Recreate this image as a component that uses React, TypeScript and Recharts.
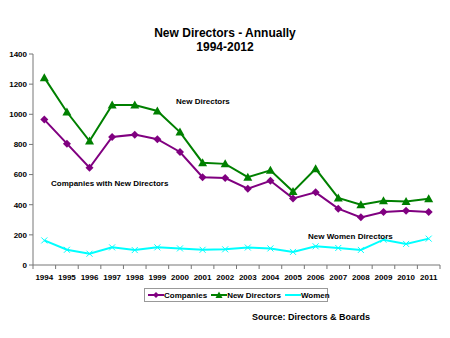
import { LineChart, Line, XAxis, YAxis } from "recharts";

const years = ["1994", "1995", "1996", "1997", "1998", "1999", "2000", "2001", "2002", "2003", "2004", "2005", "2006", "2007", "2008", "2009", "2010", "2011"];
const companies = [965, 805, 645, 850, 865, 835, 750, 582, 577, 506, 559, 442, 482, 374, 316, 352, 360, 352];
const newDirectors = [1243, 1015, 822, 1062, 1062, 1022, 882, 679, 671, 583, 628, 487, 638, 445, 400, 426, 422, 440];
const women = [163, 101, 75, 117, 99, 117, 110, 101, 104, 116, 110, 87, 124, 113, 100, 168, 140, 175];
const yTicks = [0, 200, 400, 600, 800, 1000, 1200, 1400];

const data = years.map((y, i) => ({
  year: y,
  companies: companies[i],
  newDirectors: newDirectors[i],
  women: women[i],
}));

const FONT = "'Liberation Sans', Arial, sans-serif";
const PURPLE = "#800080";
const GREEN = "#008000";
const CYAN = "#00FFFF";
const BAND = (440 - 33) / years.length;

const Diamond = (props: any) => {
  const { cx, cy } = props;
  if (cx == null || cy == null) return null;
  return <path d={`M${cx},${cy - 4}L${cx + 4},${cy}L${cx},${cy + 4}L${cx - 4},${cy}Z`} fill={PURPLE} />;
};

const Triangle = (props: any) => {
  const { cx, cy } = props;
  if (cx == null || cy == null) return null;
  return <path d={`M${cx},${cy - 4.5}L${cx + 4.5},${cy + 3.5}L${cx - 4.5},${cy + 3.5}Z`} fill={GREEN} />;
};

const Cross = (props: any) => {
  const { cx, cy } = props;
  if (cx == null || cy == null) return null;
  return (
    <path d={`M${cx - 3},${cy - 3}L${cx + 3},${cy + 3}M${cx - 3},${cy + 3}L${cx + 3},${cy - 3}`} stroke={CYAN} strokeWidth={1} />
  );
};

const XTick = (props: any) => {
  const { x, y, payload, index } = props;
  return (
    <g>
      {index === 0 && <line x1={x - BAND / 2} y1={y - 8} x2={x - BAND / 2} y2={y - 4} stroke="#777" />}
      <line x1={x + BAND / 2} y1={y - 8} x2={x + BAND / 2} y2={y - 4} stroke="#777" />
      <text x={x} y={y + 7} textAnchor="middle" fontSize={8} fontWeight="bold" fontFamily={FONT} fill="#000">
        {payload.value}
      </text>
    </g>
  );
};

const legendItems = [
  { label: "Companies", color: PURPLE, mark: "d" },
  { label: "New Directors", color: GREEN, mark: "t" },
  { label: "Women", color: CYAN, mark: "x" },
];

const LegendBox = () => (
  <div
    style={{
      position: "absolute", left: 144, top: 288, width: 184, height: 14, border: "1px solid #999", boxSizing: "border-box",
      display: "flex", alignItems: "center", fontFamily: FONT, fontSize: 8, fontWeight: "bold", paddingLeft: 3, whiteSpace: "nowrap",
    }}
  >
    {legendItems.map((it) => (
      <span key={it.label} style={{ display: "flex", alignItems: "center", marginRight: 4 }}>
        <svg width={16} height={8}>
          <line x1={0} y1={4} x2={16} y2={4} stroke={it.color} strokeWidth={2} />
          {it.mark === "d" && <path d="M8,1L11,4L8,7L5,4Z" fill={it.color} />}
          {it.mark === "t" && <path d="M8,0.5L11.5,7L4.5,7Z" fill={it.color} />}
        </svg>
        <span>{it.label}</span>
      </span>
    ))}
  </div>
);

const noteStyle = { position: "absolute" as const, fontFamily: FONT, fontSize: 8, fontWeight: "bold" as const, color: "#000", whiteSpace: "nowrap" as const };

export default function App() {
  return (
    <div style={{ position: "absolute", left: 0, top: 0, width: 450, height: 338, background: "#fff", fontFamily: FONT }}>
      <div style={{ position: "absolute", top: 26, left: 0, width: 450, textAlign: "center", fontSize: 12, fontWeight: "bold", lineHeight: "14px" }}>
        New Directors - Annually
        <br />
        1994-2012
      </div>
      <LineChart width={450} height={300} data={data} margin={{ top: 54, right: 10, bottom: 15, left: 0 }}>
        <XAxis
          dataKey="year"
          padding={{ left: BAND / 2, right: BAND / 2 }}
          axisLine={{ stroke: "#777" }}
          tickLine={false}
          tick={<XTick />}
          height={20}
          interval={0}
        />
        <YAxis
          domain={[0, 1400]}
          ticks={yTicks}
          width={33}
          axisLine={{ stroke: "#777" }}
          tickLine={{ stroke: "#777" }}
          tickSize={4}
          tick={{ fontSize: 8, fontWeight: "bold", fill: "#000", fontFamily: FONT }}
        />
        <Line dataKey="women" name="Women" stroke={CYAN} strokeWidth={2} dot={<Cross />} isAnimationActive={false} />
        <Line dataKey="companies" name="Companies" stroke={PURPLE} strokeWidth={2} dot={<Diamond />} isAnimationActive={false} />
        <Line dataKey="newDirectors" name="New Directors" stroke={GREEN} strokeWidth={2} dot={<Triangle />} isAnimationActive={false} />
      </LineChart>
      <LegendBox />
      <div style={{ ...noteStyle, left: 176, top: 97 }}>New Directors</div>
      <div style={{ ...noteStyle, left: 51, top: 179 }}>Companies with New Directors</div>
      <div style={{ ...noteStyle, left: 308, top: 232 }}>New Women Directors</div>
      <div style={{ ...noteStyle, fontSize: 9, left: 252, top: 312 }}>Source: Directors &amp; Boards</div>
    </div>
  );
}
